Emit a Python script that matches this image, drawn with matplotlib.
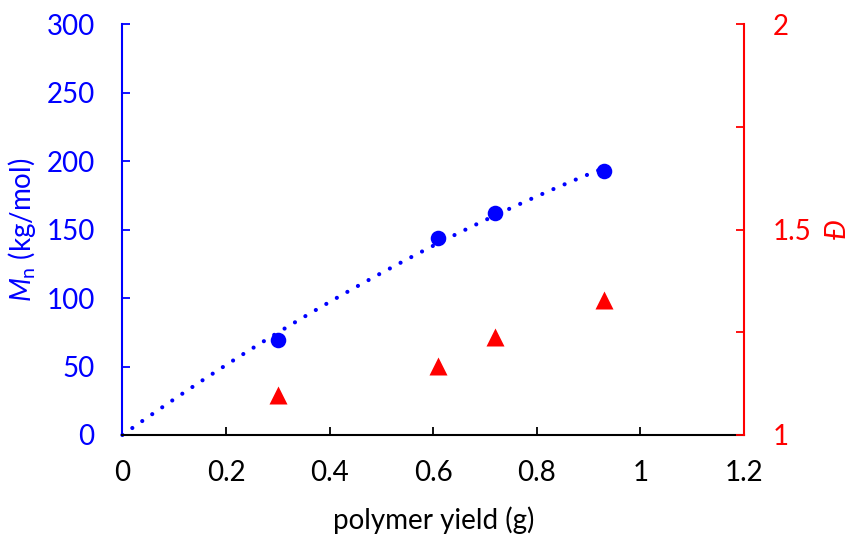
import numpy as np
import matplotlib
matplotlib.use("Agg")
import matplotlib.pyplot as plt
from matplotlib.ticker import MultipleLocator, FixedLocator, FixedFormatter

plt.rcParams['font.family'] = ['Lato', 'DejaVu Sans']
plt.rcParams['mathtext.fontset'] = 'custom'
plt.rcParams['mathtext.it'] = 'Lato:italic'
plt.rcParams['mathtext.rm'] = 'Lato'

# data
yield_g = [0.30, 0.61, 0.72, 0.93]
mn_kg_mol = [69.5, 144, 162, 193]
dispersity = [1.098, 1.168, 1.238, 1.328]

x_ticks = [0, 0.2, 0.4, 0.6, 0.8, 1, 1.2]
x_tick_labels = ['0', '0.2', '0.4', '0.6', '0.8', '1', '1.2']
left_ticks = [0, 50, 100, 150, 200, 250, 300]
right_ticks = [1, 1.5, 2]
right_tick_labels = ['1', '1.5', '2']

BLUE = '#0000FF'
RED = '#FF0000'
FS = 20

# second-order polynomial trendline through origin (Excel style)
xa = np.array(yield_g)
ya = np.array(mn_kg_mol)
A = np.vstack([xa, xa**2]).T
coef, *_ = np.linalg.lstsq(A, ya, rcond=None)
xt = np.linspace(0, max(yield_g), 200)
yt = coef[0] * xt + coef[1] * xt**2

fig = plt.figure(figsize=(8.54, 5.39), dpi=100)
ax = fig.add_axes([0.1433, 0.193, 0.8712 - 0.1433, 0.955 - 0.193])
ax2 = ax.twinx()

ax.plot(xt, yt, color=BLUE, lw=3.0, linestyle=(0, (0.01, 2.9)),
        dash_capstyle='round', zorder=2, clip_on=False)
ax.plot(yield_g, mn_kg_mol, 'o', color=BLUE, ms=11.2, mec='none', zorder=3)
ax2.plot(yield_g, dispersity, '^', color=RED, ms=13.5, mec='none', zorder=3)

ax.set_xlim(0, 1.2)
ax.set_ylim(0, 300)
ax2.set_ylim(1, 2)

ax.xaxis.set_major_locator(FixedLocator(x_ticks))
ax.xaxis.set_major_formatter(FixedFormatter(x_tick_labels))
ax.yaxis.set_major_locator(FixedLocator(left_ticks))
ax2.yaxis.set_major_locator(FixedLocator(right_ticks))
ax2.yaxis.set_major_formatter(FixedFormatter(right_tick_labels))
ax2.yaxis.set_minor_locator(MultipleLocator(0.25))

ax.spines['top'].set_visible(False)
ax2.spines['top'].set_visible(False)
ax.spines['right'].set_visible(False)
ax2.spines['left'].set_visible(False)
ax2.spines['bottom'].set_visible(False)
ax.spines['left'].set_color(BLUE)
ax.spines['bottom'].set_color('black')
ax2.spines['right'].set_color(RED)
for sp in (ax.spines['left'], ax.spines['bottom'], ax2.spines['right']):
    sp.set_linewidth(1.5)

ax.tick_params(axis='x', direction='in', length=6, width=1.3, colors='black',
               labelsize=FS, pad=18)
ax.tick_params(axis='y', direction='in', length=6, width=1.3, colors=BLUE,
               labelsize=FS, pad=20)
ax2.tick_params(axis='y', which='both', direction='in', length=6, width=1.3,
                colors=RED, labelsize=FS, pad=21)

ax.set_xlabel('polymer yield (g)', fontsize=FS, labelpad=15)
ax.set_ylabel(r'$M_{\mathrm{n}}$ (kg/mol)', fontsize=FS, color=BLUE, labelpad=6)
ax2.set_ylabel('Đ', fontsize=FS, color=RED, style='italic', labelpad=9)

fig.savefig('out.png', dpi=100)
